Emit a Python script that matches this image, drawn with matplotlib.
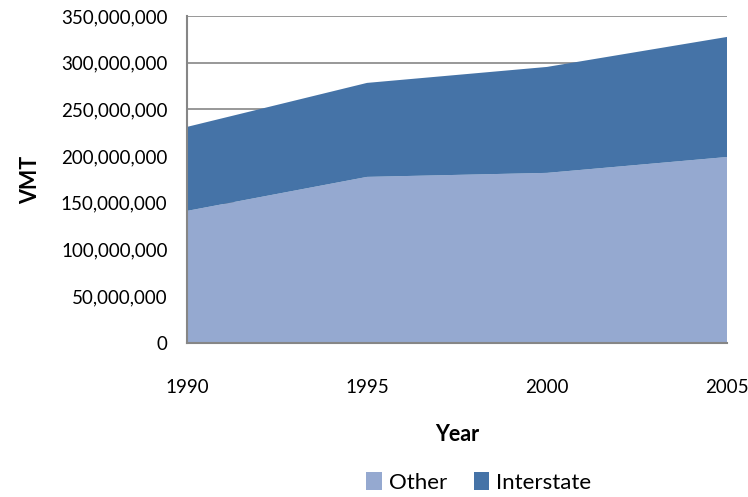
import matplotlib.pyplot as plt
from matplotlib.ticker import FuncFormatter

plt.rcParams['font.family'] = ['Lato', 'DejaVu Sans']

years = [1990, 1995, 2000, 2005]
other = [141_300_000, 177_700_000, 182_000_000, 199_000_000]
interstate = [89_900_000, 100_600_000, 113_400_000, 128_500_000]

fig = plt.figure(figsize=(7.48, 4.97), dpi=100)
ax = fig.add_axes([0.25, 0.31, 0.722, 0.658])

ax.stackplot(years, other, interstate, colors=['#95A9D0', '#4573A7'],
             labels=['Other', 'Interstate'], zorder=2)

ax.set_xlim(1990, 2005)
ax.set_ylim(0, 350_000_000)
ax.set_yticks(range(0, 350_000_001, 50_000_000))
ax.set_xticks(years)
ax.yaxis.set_major_formatter(FuncFormatter(lambda v, p: f'{int(v):,}'))
ax.grid(axis='y', color='#868686', linewidth=1.2, zorder=1)
ax.tick_params(length=0, labelsize=13.5)
ax.tick_params(axis='x', pad=26)
ax.tick_params(axis='y', pad=14)

for side in ['top', 'right']:
    ax.spines[side].set_visible(False)
for side in ['left', 'bottom']:
    ax.spines[side].set_color('#868686')
    ax.spines[side].set_linewidth(1.5)

ax.set_xlabel('Year', fontsize=15.5, fontweight='bold', labelpad=20)
ax.set_ylabel('VMT', fontsize=15.5, fontweight='bold', labelpad=14)

fig.legend(loc='center', bbox_to_anchor=(0.64, 0.03), ncol=2, frameon=False,
           fontsize=16, handlelength=0.7, handleheight=0.9, handletextpad=0.3,
           columnspacing=1.2)

fig.savefig('out.png', dpi=100)
